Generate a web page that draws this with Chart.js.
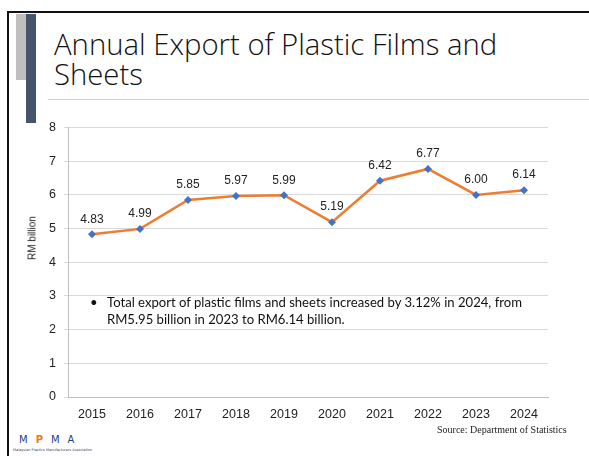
<!DOCTYPE html>
<html>
<head>
<meta charset="utf-8">
<script src="https://cdn.jsdelivr.net/npm/chart.js@4"></script>
<style>
  html, body { margin: 0; padding: 0; background: #fff; }
  body { width: 589px; height: 456px; position: relative; overflow: hidden; }
  .frame-top { position: absolute; left: 7px; top: 11px; width: 582px; height: 2px; background: #111; }
  .frame-left { position: absolute; left: 7px; top: 11px; width: 2px; height: 445px; background: #111; }
  .bar-grey { position: absolute; left: 16px; top: 14px; width: 10px; height: 66px; background: #bfbfbf; }
  .bar-blue { position: absolute; left: 26px; top: 14px; width: 10px; height: 109px; background: #44546a; }
  .title { position: absolute; left: 54px; top: 29px; font-family: "Open Sans", sans-serif; font-weight: 300;
           font-size: 29.3px; line-height: 30px; color: #111; white-space: nowrap; }
  .title-rule { position: absolute; left: 48px; top: 99px; width: 541px; height: 1px; background: #d0d0d0; }
  #wrap { position: absolute; left: 18px; top: 112px; width: 552px; height: 315px; }
  .ytitle { position: absolute; left: 32px; top: 238px; transform: translate(-50%, -50%) rotate(-90deg);
            font-family: "Liberation Sans", Arial, sans-serif; font-size: 10px; color: #222; white-space: nowrap; }
  .note { position: absolute; left: 90px; top: 294px; font-family: Lato, "Open Sans", sans-serif; font-size: 13.1px;
          line-height: 17px; color: #111; white-space: nowrap; }
  .note .dot { position: absolute; left: 0; top: 0; }
  .note .txt { margin-left: 17px; }
  .source { position: absolute; left: 437px; top: 424px; font-family: "Liberation Serif", serif; font-size: 10px; color: #222; }
  .logo { position: absolute; left: 19px; top: 434px; font-family: "DejaVu Sans", sans-serif; }
  .logo .mark { font-size: 10px; letter-spacing: 8px; color: #2b3f73; line-height: 11px; }
  .logo .p { color: #e87b1c; font-weight: bold; }
  .logo .sub { font-size: 3.5px; color: #445; margin-top: 3px; margin-left: -6px; white-space: nowrap; }
</style>
</head>
<body>
<div class="frame-top"></div>
<div class="frame-left"></div>
<div class="bar-grey"></div>
<div class="bar-blue"></div>
<div class="title">Annual Export of Plastic Films and<br>Sheets</div>
<div class="title-rule"></div>
<div id="wrap"><canvas id="exportChart"></canvas></div>
<div class="ytitle">RM billion</div>
<div class="note"><span class="dot">•</span><div class="txt">Total export of plastic films and sheets increased by 3.12% in 2024, from<br>RM5.95 billion in 2023 to RM6.14 billion.</div></div>
<div class="source">Source: Department of Statistics</div>
<div class="logo"><div class="mark">M<span class="p">P</span>MA</div><div class="sub">Malaysian Plastics Manufacturers Association</div></div>
<script>
const years = ['2015', '2016', '2017', '2018', '2019', '2020', '2021', '2022', '2023', '2024'];
const exportValues = [4.83, 4.99, 5.85, 5.97, 5.99, 5.19, 6.42, 6.77, 6.00, 6.14];
const yTicks = [0, 1, 2, 3, 4, 5, 6, 7, 8];

// value labels above each point
const valueLabels = {
    id: 'valueLabels',
    afterDatasetsDraw(chart) {
        const ctx = chart.ctx;
        const meta = chart.getDatasetMeta(0);
        ctx.save();
        ctx.font = '12px "Liberation Sans", Arial, sans-serif';
        ctx.fillStyle = '#222';
        ctx.textAlign = 'center';
        ctx.textBaseline = 'bottom';
        meta.data.forEach((pt, i) => {
            ctx.fillText(exportValues[i].toFixed(2), pt.x, pt.y - 9);
        });
        ctx.restore();
    }
};

const ctxLine = document.getElementById('exportChart').getContext('2d');
new Chart(ctxLine, {
    type: 'line',
    data: {
        labels: years,
        datasets: [{
            label: 'Export',
            data: exportValues,
            borderColor: '#ed7d31',
            borderWidth: 2.5,
            tension: 0,
            pointStyle: 'rectRot',
            pointRadius: 4,
            pointBackgroundColor: '#4472c4',
            pointBorderColor: '#4472c4',
            pointBorderWidth: 0
        }]
    },
    options: {
        responsive: true,
        maintainAspectRatio: false,
        animation: false,
        layout: { padding: { top: 10, right: 22, bottom: 0, left: 0 } },
        plugins: {
            legend: { display: false },
            tooltip: { enabled: false }
        },
        scales: {
            x: {
                offset: true,
                grid: { display: false, drawTicks: true },
                border: { color: '#bfbfbf' },
                ticks: {
                    color: '#222',
                    font: { family: '"Liberation Sans", Arial, sans-serif', size: 12.5 },
                    padding: 2
                },
                afterFit: s => { s.height = 30; }
            },
            y: {
                min: 0,
                max: 8,
                afterBuildTicks: s => { s.ticks = yTicks.map(v => ({ value: v })); },
                grid: { color: '#d9d9d9', tickLength: 4 },
                border: { color: '#bfbfbf' },
                ticks: {
                    color: '#222',
                    font: { family: '"Liberation Sans", Arial, sans-serif', size: 12.5 },
                    padding: 8
                },
                afterFit: s => { s.width = 50; }
            }
        }
    },
    plugins: [valueLabels]
});
</script>
</body>
</html>
